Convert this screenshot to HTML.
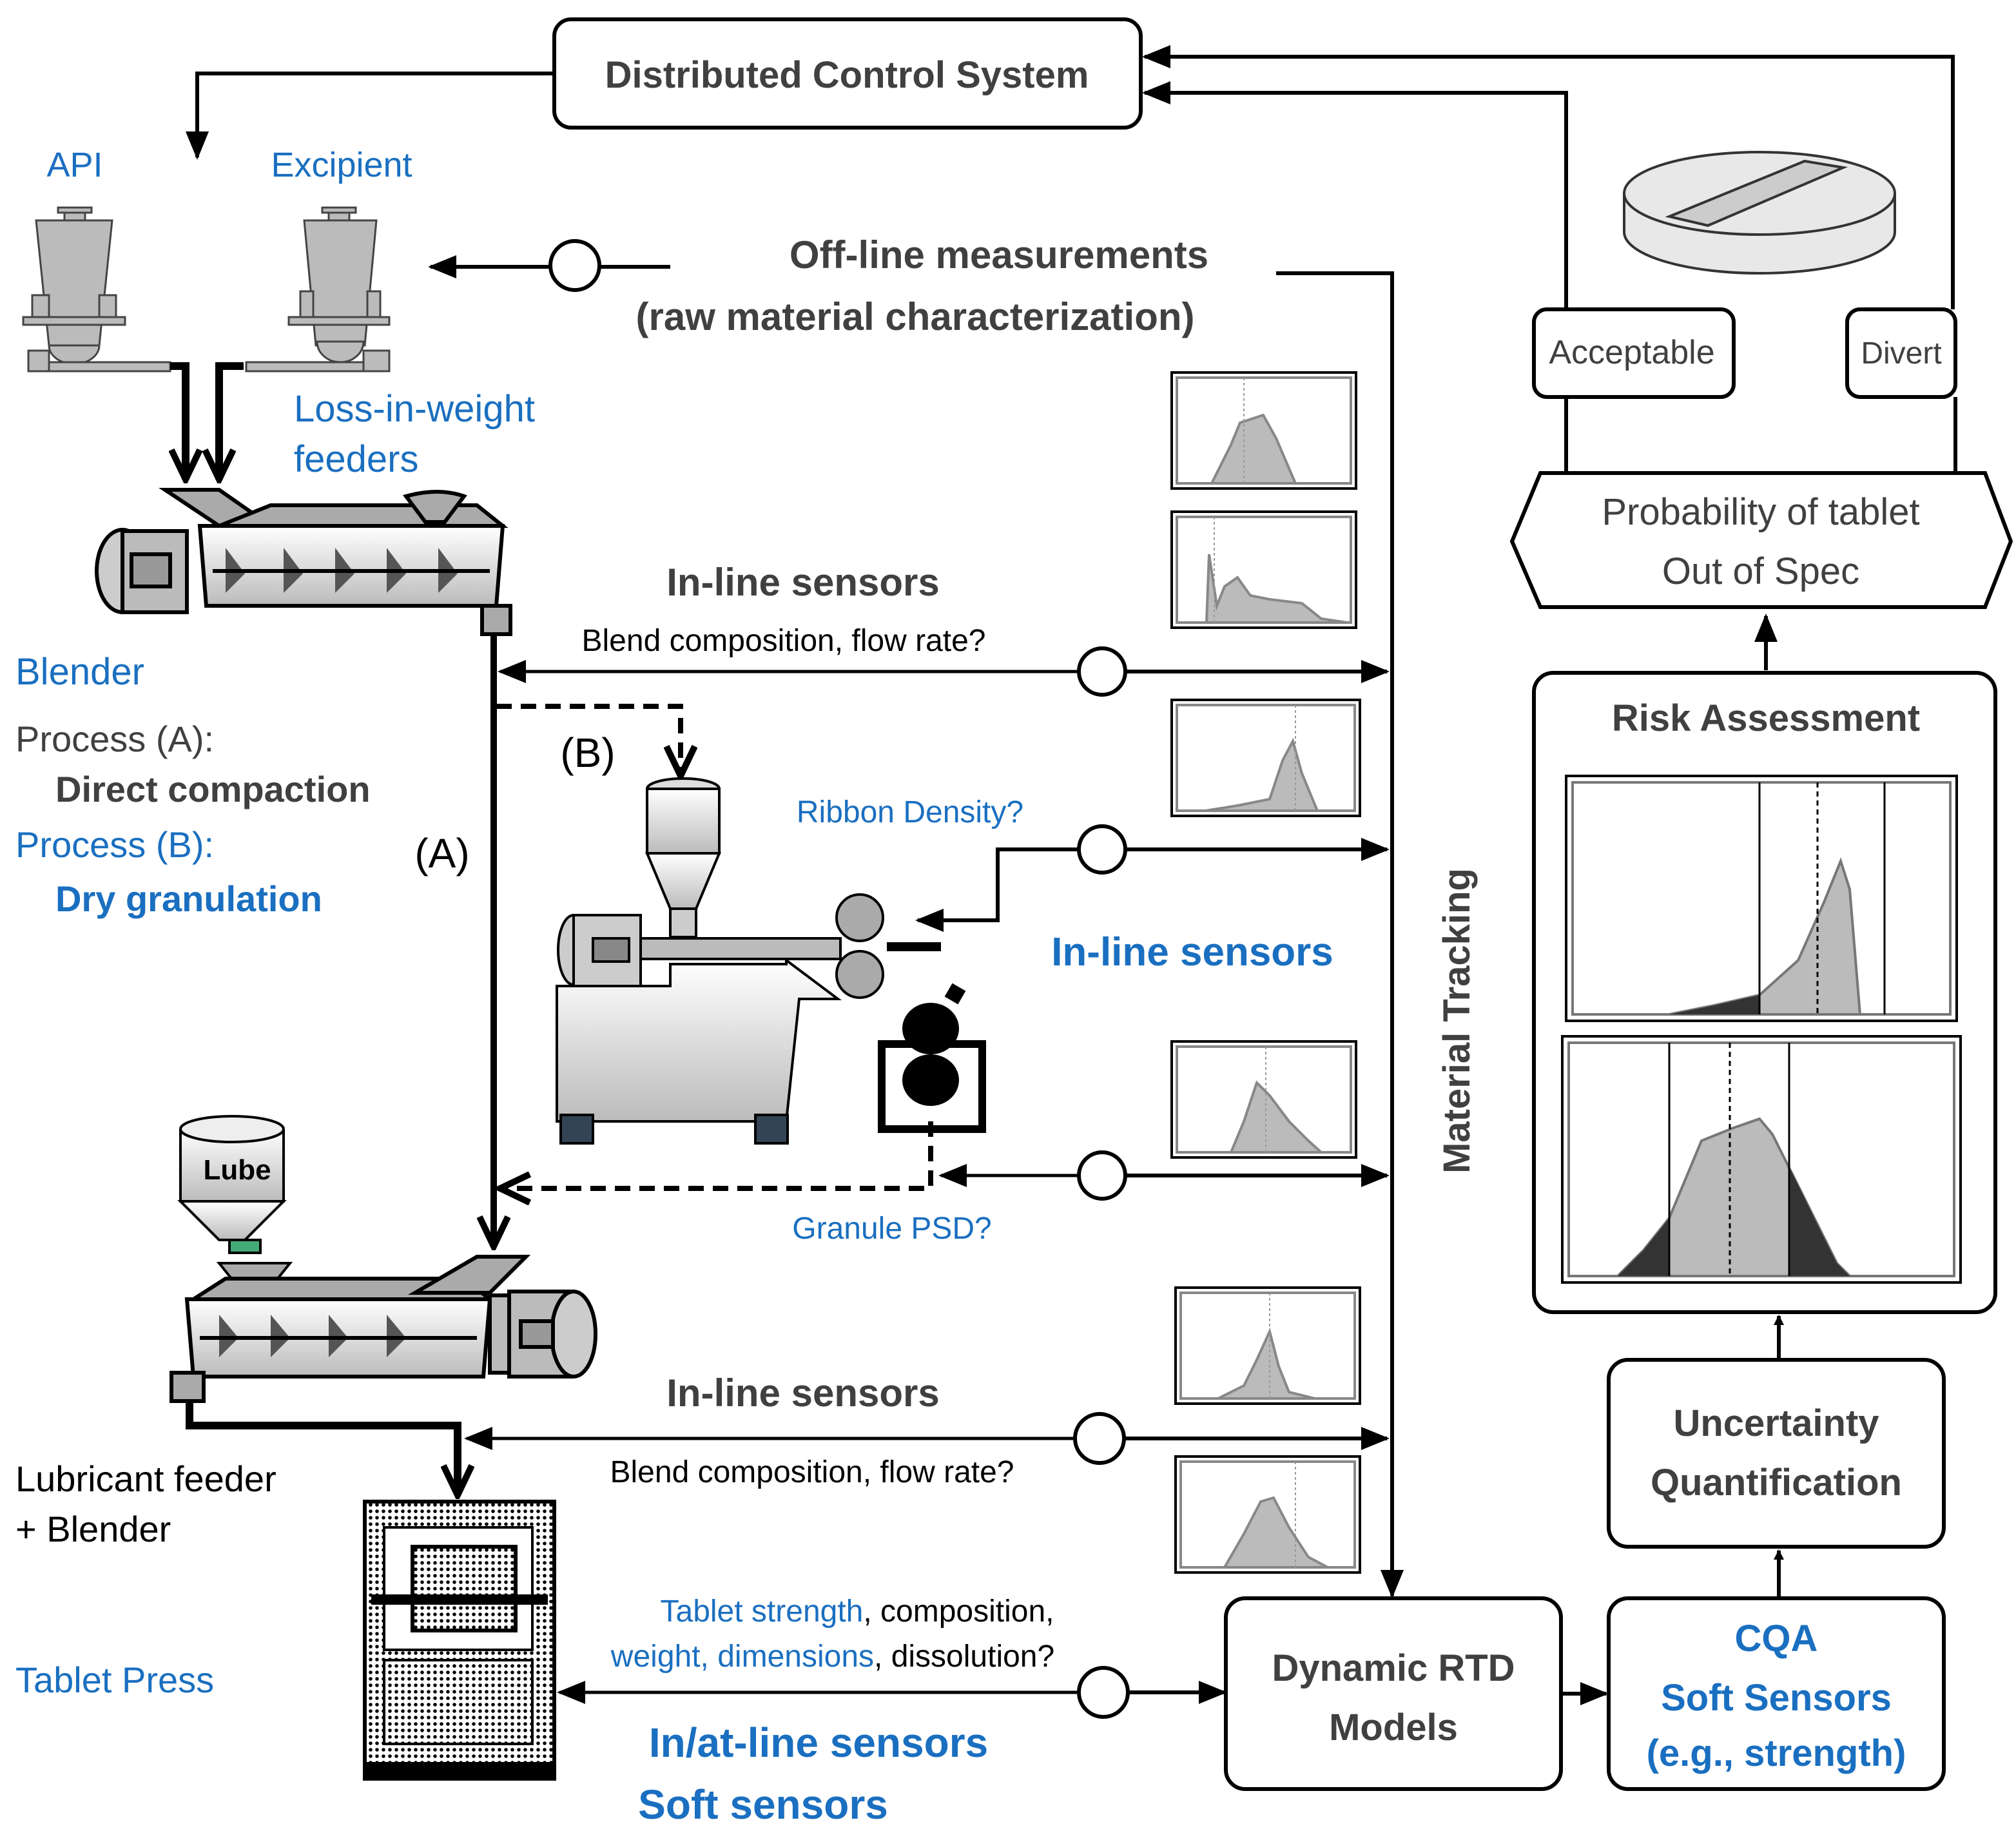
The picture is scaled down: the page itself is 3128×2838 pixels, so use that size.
<!DOCTYPE html>
<html><head><meta charset="utf-8"><style>
html,body{margin:0;padding:0;background:#fff;}
svg{display:block;}
text{font-family:"Liberation Sans",sans-serif;}
.b{fill:#1a6fc0}
.g{fill:#404040}
.bold{font-weight:bold}
</style></head><body>
<svg width="3128" height="2838" viewBox="0 0 1564 1419" xmlns="http://www.w3.org/2000/svg">
<defs>
<marker id="ah" markerWidth="8" markerHeight="8" refX="7" refY="4" orient="auto" markerUnits="userSpaceOnUse" viewBox="0 0 8 8"><path d="M0,0 L8,4 L0,8z" fill="#000"/></marker>
<marker id="ahL" markerWidth="22" markerHeight="18" refX="20" refY="9" orient="auto" markerUnits="userSpaceOnUse" viewBox="0 0 22 18"><path d="M0,0 L22,9 L0,18z" fill="#000"/></marker>
<marker id="ahV" markerWidth="28" markerHeight="26" refX="25" refY="13" orient="auto" markerUnits="userSpaceOnUse" viewBox="0 0 28 26"><path d="M2,2 L25,13 L2,24" fill="none" stroke="#000" stroke-width="5"/></marker>
<pattern id="dots" width="5" height="5" patternUnits="userSpaceOnUse"><rect width="5" height="5" fill="#fff"/><circle cx="2.5" cy="2.5" r="1.4" fill="#000"/></pattern>
<linearGradient id="met" x1="0" y1="0" x2="0" y2="1"><stop offset="0" stop-color="#fff"/><stop offset="1" stop-color="#bbb"/></linearGradient>
</defs>

<!-- DCS -->
<rect x="430" y="15" width="455" height="84" rx="13" fill="#fff" stroke="#000" stroke-width="3"/>
<text x="657" y="68" text-anchor="middle" font-size="29" class="g bold">Distributed Control System</text>
<polyline points="430,57 153,57 153,122" fill="none" stroke="#000" stroke-width="3" marker-end="url(#ahL)"/>
<polyline points="1515,240 1515,44 888,44" fill="none" stroke="#000" stroke-width="3" marker-end="url(#ahL)"/>
<polyline points="1215,240 1215,72 888,72" fill="none" stroke="#000" stroke-width="3" marker-end="url(#ahL)"/>

<!-- tablet -->
<g stroke="#333" stroke-width="2" fill="#e8e8e8">
<path d="M1260,150 L1260,180 A105,32 0 0 0 1470,180 L1470,150"/>
<ellipse cx="1365" cy="150" rx="105" ry="32"/>
<path d="M1295,168 L1400,125 L1430,130 L1325,175z" fill="#ccc"/>
</g>

<rect x="1190" y="240" width="155" height="68" rx="10" fill="#fff" stroke="#000" stroke-width="3"/>
<text x="1266" y="282" text-anchor="middle" font-size="26" class="g">Acceptable</text>
<rect x="1433" y="240" width="84" height="68" rx="10" fill="#fff" stroke="#000" stroke-width="3"/>
<text x="1475" y="282" text-anchor="middle" font-size="24" class="g">Divert</text>
<line x1="1215" y1="308" x2="1215" y2="367" stroke="#000" stroke-width="3"/>
<line x1="1517" y1="308" x2="1517" y2="367" stroke="#000" stroke-width="3"/>
<polygon points="1173,420 1195,367 1540,367 1560,420 1540,471 1195,471" fill="#fff" stroke="#000" stroke-width="3"/>
<text x="1366" y="407" text-anchor="middle" font-size="29" class="g">Probability of tablet</text>
<text x="1366" y="453" text-anchor="middle" font-size="29" class="g">Out of Spec</text>
<line x1="1370" y1="520" x2="1370" y2="478" stroke="#000" stroke-width="3" marker-end="url(#ahL)"/>

<!-- Risk assessment -->
<rect x="1190" y="522" width="358" height="496" rx="15" fill="#fff" stroke="#000" stroke-width="3"/>
<text x="1370" y="567" text-anchor="middle" font-size="29" class="g bold">Risk Assessment</text>
<rect x="1215" y="602" width="303" height="190" fill="#fff" stroke="#000" stroke-width="2"/>
<rect x="1220" y="607" width="293" height="180" fill="none" stroke="#777" stroke-width="2"/>
<path d="M1295,787 L1330,780 L1365,772 L1395,745 L1415,700 L1428,668 L1435,690 L1443,787z" fill="#bbb" stroke="#777" stroke-width="2"/>
<path d="M1295,787 L1330,780 L1365,772 L1365,787z" fill="#333"/>
<line x1="1365" y1="607" x2="1365" y2="787" stroke="#000" stroke-width="1.5"/>
<line x1="1462" y1="607" x2="1462" y2="787" stroke="#000" stroke-width="1.5"/>
<line x1="1410" y1="607" x2="1410" y2="787" stroke="#000" stroke-width="1.5" stroke-dasharray="4,3"/>
<rect x="1212" y="804" width="309" height="191" fill="#fff" stroke="#000" stroke-width="2"/>
<rect x="1217" y="809" width="299" height="181" fill="none" stroke="#777" stroke-width="2"/>
<path d="M1255,990 L1275,970 L1295,945 L1320,885 L1345,875 L1365,868 L1375,880 L1390,910 L1410,950 L1425,980 L1435,990z" fill="#bbb" stroke="#777" stroke-width="2"/>
<path d="M1255,990 L1275,970 L1295,945 L1295,990z" fill="#333"/>
<path d="M1388,905 L1410,950 L1425,980 L1435,990 L1388,990z" fill="#333"/>
<line x1="1295" y1="809" x2="1295" y2="990" stroke="#000" stroke-width="1.5"/>
<line x1="1388" y1="809" x2="1388" y2="990" stroke="#000" stroke-width="1.5"/>
<line x1="1342" y1="809" x2="1342" y2="990" stroke="#000" stroke-width="1.5" stroke-dasharray="4,3"/>

<line x1="1380" y1="1055" x2="1380" y2="1021" stroke="#000" stroke-width="3" marker-end="url(#ah)"/>
<rect x="1248" y="1055" width="260" height="145" rx="15" fill="#fff" stroke="#000" stroke-width="3"/>
<text x="1378" y="1114" text-anchor="middle" font-size="29" class="g bold">Uncertainty</text>
<text x="1378" y="1160" text-anchor="middle" font-size="29" class="g bold">Quantification</text>
<line x1="1380" y1="1240" x2="1380" y2="1203" stroke="#000" stroke-width="3" marker-end="url(#ah)"/>
<rect x="1248" y="1240" width="260" height="148" rx="15" fill="#fff" stroke="#000" stroke-width="3"/>
<text x="1378" y="1281" text-anchor="middle" font-size="29" class="b bold">CQA</text>
<text x="1378" y="1327" text-anchor="middle" font-size="29" class="b bold">Soft Sensors</text>
<text x="1378" y="1370" text-anchor="middle" font-size="29" class="b bold">(e.g., strength)</text>
<rect x="951" y="1240" width="260" height="148" rx="15" fill="#fff" stroke="#000" stroke-width="3"/>
<text x="1081" y="1304" text-anchor="middle" font-size="29" class="g bold">Dynamic RTD</text>
<text x="1081" y="1350" text-anchor="middle" font-size="29" class="g bold">Models</text>
<line x1="1211" y1="1314" x2="1246" y2="1314" stroke="#000" stroke-width="3" marker-end="url(#ahL)"/>

<!-- Material tracking -->
<polyline points="990,212 1080,212 1080,1238" fill="none" stroke="#000" stroke-width="3" marker-end="url(#ahL)"/>
<text transform="translate(1140,792) rotate(-90)" text-anchor="middle" font-size="29" class="g bold">Material Tracking</text>

<!-- Off-line -->
<text x="775" y="208" text-anchor="middle" font-size="30" class="g bold">Off-line measurements</text>
<text x="710" y="256" text-anchor="middle" font-size="30" class="g bold">(raw material characterization)</text>
<line x1="520" y1="207" x2="334" y2="207" stroke="#000" stroke-width="3" marker-end="url(#ahL)"/>
<circle cx="446" cy="206" r="19" fill="#fff" stroke="#000" stroke-width="3"/>

<!-- histograms -->
<g stroke-width="2">
<rect x="909" y="289" width="143" height="90" fill="#fff" stroke="#000"/><rect x="913" y="293" width="135" height="82" fill="none" stroke="#888"/>
<path d="M940,375 L955,345 L962,328 L980,322 L990,340 L1005,375z" fill="#bbb" stroke="#888"/>
<line x1="965" y1="293" x2="965" y2="375" stroke="#999" stroke-width="1" stroke-dasharray="2,2"/>
<rect x="909" y="397" width="143" height="90" fill="#fff" stroke="#000"/><rect x="913" y="401" width="135" height="82" fill="none" stroke="#888"/>
<path d="M936,483 L938,430 L944,470 L950,455 L960,448 L970,462 L985,465 L1010,468 L1025,480 L1045,483z" fill="#bbb" stroke="#888"/>
<line x1="942" y1="401" x2="942" y2="483" stroke="#999" stroke-width="1" stroke-dasharray="2,2"/>
<rect x="909" y="543" width="146" height="90" fill="#fff" stroke="#000"/><rect x="913" y="547" width="138" height="82" fill="none" stroke="#888"/>
<path d="M935,629 L960,625 L985,620 L995,590 L1003,575 L1010,600 L1022,629z" fill="#bbb" stroke="#888"/>
<line x1="1005" y1="547" x2="1005" y2="629" stroke="#999" stroke-width="1" stroke-dasharray="2,2"/>
<rect x="909" y="808" width="143" height="90" fill="#fff" stroke="#000"/><rect x="913" y="812" width="135" height="82" fill="none" stroke="#888"/>
<path d="M955,894 L965,870 L975,840 L985,850 L1000,870 L1015,885 L1025,894z" fill="#bbb" stroke="#888"/>
<line x1="982" y1="812" x2="982" y2="894" stroke="#999" stroke-width="1" stroke-dasharray="2,2"/>
<rect x="912" y="999" width="143" height="90" fill="#fff" stroke="#000"/><rect x="916" y="1003" width="135" height="82" fill="none" stroke="#888"/>
<path d="M945,1085 L965,1075 L975,1055 L985,1033 L992,1060 L1000,1080 L1020,1085z" fill="#bbb" stroke="#888"/>
<line x1="985" y1="1003" x2="985" y2="1085" stroke="#999" stroke-width="1" stroke-dasharray="2,2"/>
<rect x="912" y="1130" width="143" height="90" fill="#fff" stroke="#000"/><rect x="916" y="1134" width="135" height="82" fill="none" stroke="#888"/>
<path d="M950,1216 L965,1190 L978,1165 L988,1162 L1000,1185 L1015,1208 L1030,1216z" fill="#bbb" stroke="#888"/>
<line x1="1005" y1="1134" x2="1005" y2="1216" stroke="#999" stroke-width="1" stroke-dasharray="2,2"/>
</g>

<!-- In-line sensors 1 -->
<text x="623" y="462" text-anchor="middle" font-size="30" class="g bold">In-line sensors</text>
<text x="608" y="505" text-anchor="middle" font-size="24">Blend composition, flow rate?</text>
<line x1="855" y1="521" x2="388" y2="521" stroke="#000" stroke-width="2.5" marker-end="url(#ahL)"/>
<line x1="855" y1="521" x2="1076" y2="521" stroke="#000" stroke-width="3" marker-end="url(#ahL)"/>
<circle cx="855" cy="521" r="18" fill="#fff" stroke="#000" stroke-width="3"/>

<!-- Ribbon -->
<text x="706" y="638" text-anchor="middle" font-size="24" class="b">Ribbon Density?</text>
<line x1="855" y1="659" x2="1076" y2="659" stroke="#000" stroke-width="3" marker-end="url(#ahL)"/>
<polyline points="836,659 774,659 774,714 712,714" fill="none" stroke="#000" stroke-width="3" marker-end="url(#ahL)"/>
<circle cx="855" cy="659" r="18" fill="#fff" stroke="#000" stroke-width="3"/>
<text x="925" y="749" text-anchor="middle" font-size="31" class="b bold">In-line sensors</text>

<!-- Granule -->
<line x1="855" y1="912" x2="1076" y2="912" stroke="#000" stroke-width="3" marker-end="url(#ahL)"/>
<line x1="836" y1="912" x2="730" y2="912" stroke="#000" stroke-width="2.5" marker-end="url(#ahL)"/>
<circle cx="855" cy="912" r="18" fill="#fff" stroke="#000" stroke-width="3"/>
<text x="692" y="961" text-anchor="middle" font-size="24" class="b">Granule PSD?</text>

<!-- dashed paths -->
<polyline points="385,548 528,548 528,602" fill="none" stroke="#000" stroke-width="4" stroke-dasharray="12,7" marker-end="url(#ahV)"/>
<polyline points="722,870 722,922 388,922" fill="none" stroke="#000" stroke-width="4" stroke-dasharray="12,7" marker-end="url(#ahV)"/>
<line x1="383" y1="490" x2="383" y2="967" stroke="#000" stroke-width="5" marker-end="url(#ahV)"/>
<text x="343" y="673" text-anchor="middle" font-size="32">(A)</text>
<text x="456" y="595" text-anchor="middle" font-size="32">(B)</text>

<!-- In-line sensors 2 -->
<text x="623" y="1091" text-anchor="middle" font-size="30" class="g bold">In-line sensors</text>
<text x="630" y="1150" text-anchor="middle" font-size="24">Blend composition, flow rate?</text>
<line x1="853" y1="1116" x2="362" y2="1116" stroke="#000" stroke-width="2.5" marker-end="url(#ahL)"/>
<line x1="853" y1="1116" x2="1076" y2="1116" stroke="#000" stroke-width="3" marker-end="url(#ahL)"/>
<circle cx="853" cy="1116" r="19" fill="#fff" stroke="#000" stroke-width="3"/>

<!-- tablet press line -->
<text x="665" y="1258" text-anchor="middle" font-size="24"><tspan class="b">Tablet strength</tspan>, composition,</text>
<text x="646" y="1293" text-anchor="middle" font-size="24"><tspan class="b">weight, dimensions</tspan>, dissolution?</text>
<line x1="856" y1="1313" x2="434" y2="1313" stroke="#000" stroke-width="2.5" marker-end="url(#ahL)"/>
<line x1="856" y1="1313" x2="950" y2="1313" stroke="#000" stroke-width="3" marker-end="url(#ahL)"/>
<circle cx="856" cy="1313" r="19" fill="#fff" stroke="#000" stroke-width="3"/>
<text x="635" y="1363" text-anchor="middle" font-size="32" class="b bold">In/at-line sensors</text>
<text x="592" y="1411" text-anchor="middle" font-size="32" class="b bold">Soft sensors</text>

<!-- left labels -->
<text x="58" y="137" text-anchor="middle" font-size="27" class="b">API</text>
<text x="265" y="137" text-anchor="middle" font-size="27" class="b">Excipient</text>
<text x="228" y="327" font-size="29" class="b">Loss-in-weight</text>
<text x="228" y="366" font-size="29" class="b">feeders</text>
<text x="12" y="531" font-size="29" class="b">Blender</text>
<text x="12" y="583" font-size="28" class="g">Process (A):</text>
<text x="43" y="622" font-size="28" class="g bold">Direct compaction</text>
<text x="12" y="665" font-size="28" class="b">Process (B):</text>
<text x="43" y="707" font-size="28" class="b bold">Dry granulation</text>
<text x="12" y="1157" font-size="28">Lubricant feeder</text>
<text x="12" y="1196" font-size="28">+ Blender</text>
<text x="12" y="1313" font-size="28" class="b">Tablet Press</text>

<!-- feeders -->
<g fill="#bbb" stroke="#444" stroke-width="1.5">
<rect x="45" y="161" width="26" height="4"/>
<rect x="50" y="165" width="16" height="6"/>
<polygon points="28,171 87,171 77,268 38,268"/>
<rect x="25" y="229" width="13" height="17"/><rect x="77" y="229" width="13" height="17"/>
<rect x="18" y="246" width="79" height="6"/>
<path d="M38,268 L77,268 A19,14 0 0 1 38,268z"/>
<rect x="22" y="272" width="16" height="16"/><rect x="38" y="281" width="94" height="7"/>
<rect x="250" y="161" width="26" height="4"/>
<rect x="255" y="165" width="16" height="6"/>
<polygon points="236,171 292,171 283,268 245,268"/>
<rect x="233" y="226" width="10" height="20"/><rect x="285" y="226" width="10" height="20"/>
<rect x="224" y="246" width="78" height="6"/>
<path d="M246,265 L282,265 A18,16 0 0 1 246,265z"/>
<rect x="282" y="272" width="20" height="16"/><rect x="191" y="281" width="91" height="7"/>
</g>
<polyline points="132,284 144,284 144,372" fill="none" stroke="#000" stroke-width="6" marker-end="url(#ahV)"/>
<polyline points="189,284 170,284 170,372" fill="none" stroke="#000" stroke-width="6" marker-end="url(#ahV)"/>

<!-- blender 1 -->
<g stroke="#000" stroke-width="3">
<ellipse cx="95" cy="443" rx="20" ry="32" fill="#ccc"/>
<rect x="95" y="412" width="50" height="63" fill="#bbb"/>
<rect x="102" y="430" width="30" height="25" fill="#999"/>
<polygon points="128,380 170,380 210,408 170,408" fill="#aaa"/>
<polygon points="155,408 390,408 385,470 160,470" fill="url(#met)"/>
<polygon points="170,408 210,408 390,408 370,392 210,392" fill="#aaa"/>
<path d="M315,385 Q340,378 360,385 L345,405 L330,405z" fill="#aaa"/>
<rect x="374" y="470" width="22" height="22" fill="#aaa"/>
</g>
<g fill="#555"><path d="M175,425 l15,20 l-15,15z M220,425 l15,20 l-15,15z M260,425 l15,20 l-15,15z M300,425 l15,20 l-15,15z M340,425 l15,20 l-15,15z"/></g>
<line x1="165" y1="443" x2="380" y2="443" stroke="#000" stroke-width="3"/>

<!-- granulator -->
<g stroke="#000" stroke-width="2">
<ellipse cx="530" cy="612" rx="28" ry="8" fill="#ddd"/>
<rect x="502" y="612" width="56" height="50" fill="url(#met)"/>
<polygon points="502,662 558,662 540,705 520,705" fill="url(#met)"/>
<rect x="520" y="705" width="20" height="22" fill="#ccc"/>
<ellipse cx="445" cy="737" rx="12" ry="27" fill="#ccc"/>
<rect x="445" y="710" width="52" height="55" fill="#ccc"/>
<rect x="460" y="728" width="28" height="18" fill="#888"/>
<rect x="497" y="728" width="155" height="16" fill="#bbb"/>
<polygon points="432,765 520,765 520,748 610,748 610,745 650,775 620,775 610,870 432,870" fill="url(#met)"/>
<rect x="435" y="865" width="25" height="22" fill="#345"/>
<rect x="586" y="865" width="25" height="22" fill="#345"/>
<circle cx="667" cy="712" r="18" fill="#aaa"/><circle cx="667" cy="756" r="18" fill="#aaa"/>
</g>
<rect x="688" y="731" width="42" height="7" fill="#000"/>
<g>
<rect x="684" y="810" width="78" height="66" fill="none" stroke="#000" stroke-width="6"/>
<ellipse cx="722" cy="798" rx="22" ry="20" fill="#000"/>
<ellipse cx="722" cy="838" rx="22" ry="20" fill="#000"/>
<rect x="735" y="765" width="12" height="12" fill="#000" transform="rotate(30 741 771)"/>
</g>

<!-- lube -->
<g stroke="#000" stroke-width="2">
<path d="M140,876 L140,932 L220,932 L220,876" fill="url(#met)"/>
<ellipse cx="180" cy="876" rx="40" ry="10" fill="#eee"/>
<polygon points="140,932 220,932 190,962 170,962" fill="url(#met)"/>
<rect x="178" y="962" width="24" height="10" fill="#4a7"/>
<polygon points="170,980 225,980 205,1005 190,1005" fill="#aaa"/>
</g>
<text x="184" y="915" text-anchor="middle" font-size="22" class="bold" fill="#000">Lube</text>

<!-- blender 2 -->
<g stroke="#000" stroke-width="3">
<polygon points="145,1008 380,1008 375,1068 150,1068" fill="url(#met)"/>
<polygon points="150,1008 380,1008 360,992 175,992" fill="#aaa"/>
<polygon points="322,1003 370,975 408,975 380,1003" fill="#aaa"/>
<rect x="380" y="1005" width="30" height="60" fill="#bbb"/>
<rect x="395" y="1002" width="48" height="66" fill="#bbb"/>
<ellipse cx="445" cy="1035" rx="17" ry="33" fill="#ccc"/>
<rect x="404" y="1025" width="25" height="20" fill="#999"/>
<rect x="133" y="1065" width="25" height="22" fill="#aaa"/>
</g>
<g fill="#555"><path d="M170,1020 l15,18 l-15,15z M210,1020 l15,18 l-15,15z M255,1020 l15,18 l-15,15z M300,1020 l15,18 l-15,15z"/></g>
<line x1="155" y1="1038" x2="370" y2="1038" stroke="#000" stroke-width="3"/>
<polyline points="147,1087 147,1106 355,1106 355,1160" fill="none" stroke="#000" stroke-width="6" marker-end="url(#ahV)"/>

<!-- tablet press -->
<rect x="283" y="1165" width="147" height="215" fill="url(#dots)" stroke="#000" stroke-width="3"/>
<rect x="283" y="1367" width="147" height="14" fill="#000"/>
<rect x="298" y="1185" width="115" height="95" fill="#fff" stroke="#000" stroke-width="2"/>
<rect x="320" y="1200" width="80" height="65" fill="url(#dots)" stroke="#000" stroke-width="3"/>
<rect x="288" y="1237" width="137" height="8" fill="#000"/>
<rect x="298" y="1288" width="115" height="65" fill="url(#dots)" stroke="#000" stroke-width="2"/>
</svg>
</body></html>
